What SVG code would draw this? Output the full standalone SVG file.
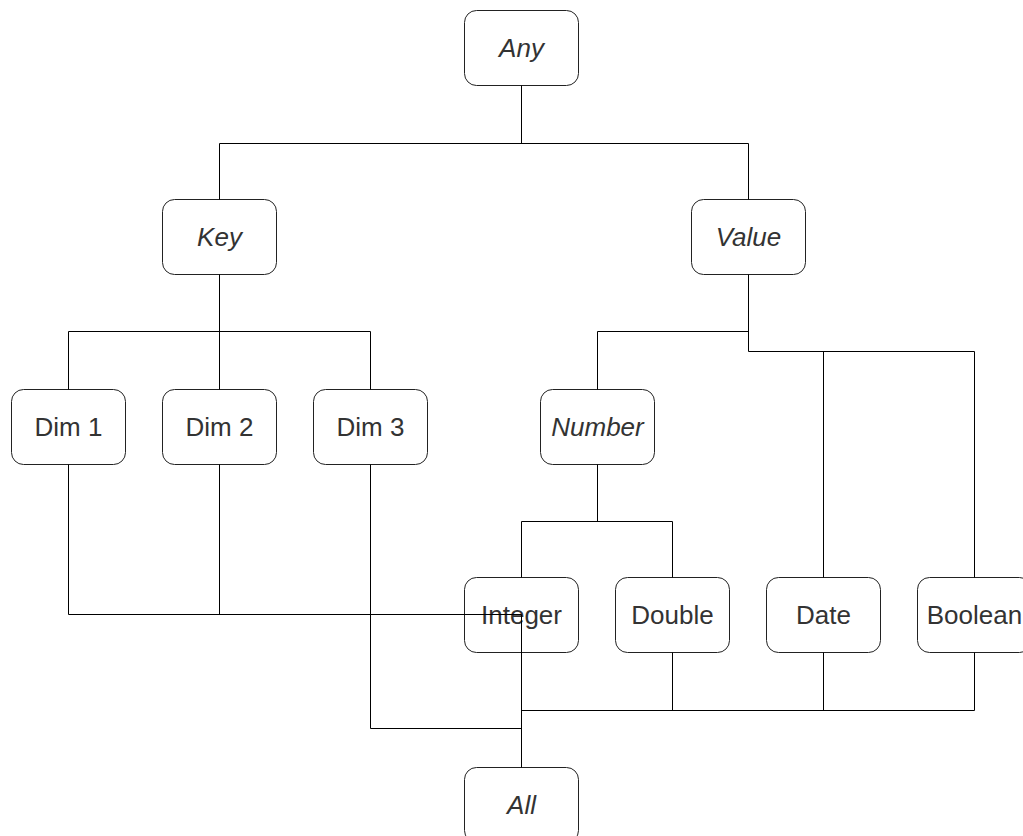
<svg xmlns="http://www.w3.org/2000/svg" width="1023" height="836" viewBox="0 0 1023 836">
<style>
.box{fill:#fff;stroke:#222;stroke-width:1}
.t{font-family:"Liberation Sans",Arial,sans-serif;font-size:26px;fill:#333;text-anchor:middle}
.i{font-style:italic}
.c{fill:none;stroke:#000;stroke-width:1}
</style>
<rect width="1023" height="836" fill="#fff"/>
<g id="any"><rect class="box" x="464.5" y="10.5" width="114" height="75" rx="12"/><text class="t i" x="521.5" y="57">Any</text></g>
<g id="key"><rect class="box" x="162.5" y="199.5" width="114" height="75" rx="12"/><text class="t i" x="219.5" y="246">Key</text></g>
<g id="value"><rect class="box" x="691.5" y="199.5" width="114" height="75" rx="12"/><text class="t i" x="748.5" y="246">Value</text></g>
<g id="dim1"><rect class="box" x="11.5" y="389.5" width="114" height="75" rx="12"/><text class="t" x="68.5" y="436">Dim 1</text></g>
<g id="dim2"><rect class="box" x="162.5" y="389.5" width="114" height="75" rx="12"/><text class="t" x="219.5" y="436">Dim 2</text></g>
<g id="dim3"><rect class="box" x="313.5" y="389.5" width="114" height="75" rx="12"/><text class="t" x="370.5" y="436">Dim 3</text></g>
<g id="number"><rect class="box" x="540.5" y="389.5" width="114" height="75" rx="12"/><text class="t i" x="597.5" y="436">Number</text></g>
<g id="integer"><rect class="box" x="464.5" y="577.5" width="114" height="75" rx="12"/><text class="t" x="521.5" y="624">Integer</text></g>
<g id="double"><rect class="box" x="615.5" y="577.5" width="114" height="75" rx="12"/><text class="t" x="672.5" y="624">Double</text></g>
<g id="date"><rect class="box" x="766.5" y="577.5" width="114" height="75" rx="12"/><text class="t" x="823.5" y="624">Date</text></g>
<g id="boolean"><rect class="box" x="917.5" y="577.5" width="114" height="75" rx="12"/><text class="t" x="974.5" y="624">Boolean</text></g>
<g id="all"><rect class="box" x="464.5" y="767.5" width="114" height="75" rx="12"/><text class="t i" x="521.5" y="814">All</text></g>
<g id="connectors">
<path class="c" d="M521.5 85.5V143.5M219.5 143.5H748.5M219.5 143.5V199.5M748.5 143.5V199.5"/>
<path class="c" d="M219.5 274.5V389.5M68.5 331.5H370.5M68.5 331.5V389.5M370.5 331.5V389.5"/>
<path class="c" d="M748.5 274.5V351.5H974.5V577.5M597.5 331.5H748.5M597.5 331.5V389.5M823.5 351.5V577.5"/>
<path class="c" d="M597.5 464.5V521.5M521.5 521.5H672.5M521.5 521.5V577.5M672.5 521.5V577.5"/>
<path class="c" d="M68.5 464.5V614.5H521.5M219.5 464.5V614.5M521.5 614.5V767.5"/>
<path class="c" d="M370.5 464.5V728.5H521.5"/>
<path class="c" d="M672.5 652.5V710.5M521.5 710.5H974.5M823.5 652.5V710.5M974.5 652.5V710.5"/>
</g>
</svg>
